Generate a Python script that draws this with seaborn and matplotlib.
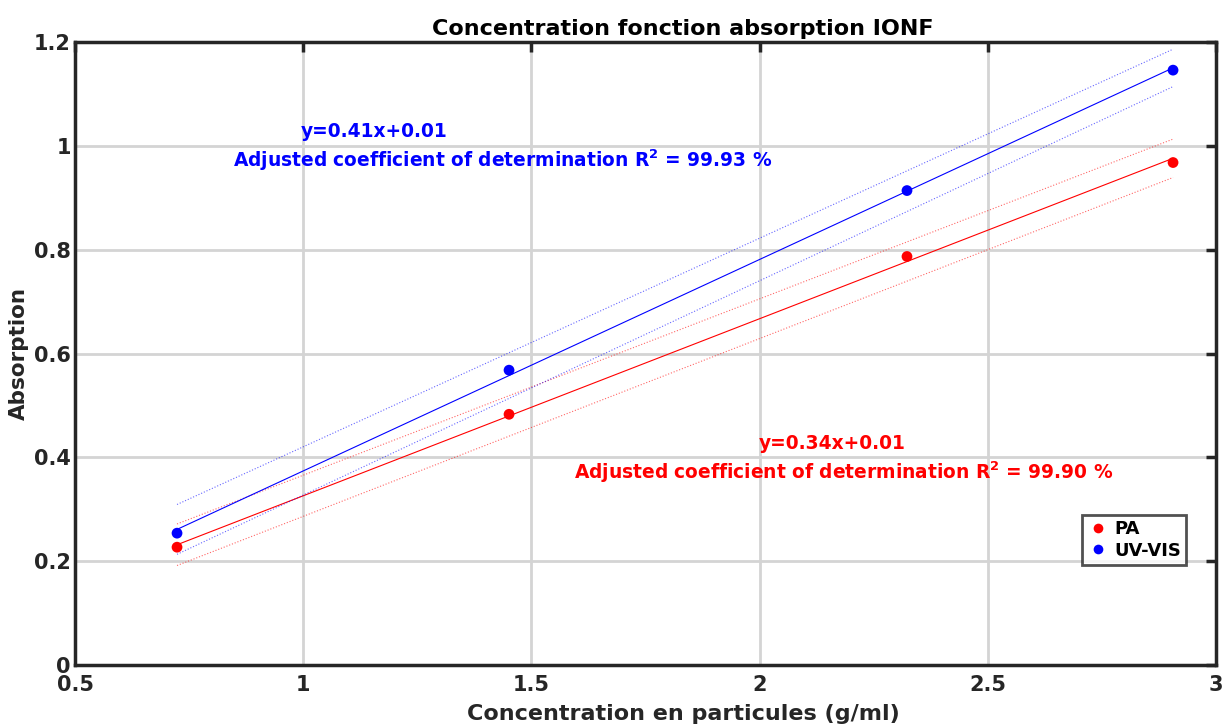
import matplotlib
matplotlib.use("Agg")
import matplotlib.pyplot as plt
import numpy as np
import pandas as pd
import seaborn as sns

# concentration (g/ml) and absorption
concentration = [0.7235, 1.451, 2.323, 2.906]
absorption_pa = [0.227, 0.483, 0.787, 0.968]
absorption_uv = [0.254, 0.568, 0.914, 1.146]
series_names = ["PA", "UV-VIS"]
series_colors = {"PA": "red", "UV-VIS": "blue"}

# half-width of the dotted confidence bounds (left end, right end)
band_pa = [0.040, 0.037]
band_uv = [0.048, 0.036]

eq_pa = "y=0.34x+0.01"
eq_uv = "y=0.41x+0.01"
r2_pa = "99.90"
r2_uv = "99.93"

x_ticks = [0.5, 1, 1.5, 2, 2.5, 3]
y_ticks = [0, 0.2, 0.4, 0.6, 0.8, 1, 1.2]

df = pd.DataFrame({
    "x": concentration * 2,
    "y": absorption_pa + absorption_uv,
    "serie": [series_names[0]] * 4 + [series_names[1]] * 4,
})

sns.set_style("whitegrid")
plt.rcParams["font.family"] = ["DejaVu Sans"]
plt.rcParams["font.weight"] = "bold"

fig = plt.figure(figsize=(12.26, 7.26), dpi=100)
ax = fig.add_axes([0.0612, 0.084, 0.9306, 0.858])

# fit lines and bounds
for name, band in [("PA", band_pa), ("UV-VIS", band_uv)]:
    sub = df[df["serie"] == name]
    slope, icpt = np.polyfit(sub["x"], sub["y"], 1)
    xs = np.array([sub["x"].min(), sub["x"].max()])
    fit = slope * xs + icpt
    col = series_colors[name]
    sns.lineplot(x=xs, y=fit, color=col, linewidth=0.8, ax=ax)
    ax.plot(xs, fit + np.array(band), color=col, linewidth=0.8,
            linestyle=":", alpha=0.6)
    ax.plot(xs, fit - np.array(band), color=col, linewidth=0.8,
            linestyle=":", alpha=0.6)

sns.scatterplot(data=df, x="x", y="y", hue="serie", palette=series_colors,
                s=60, edgecolor="none", ax=ax, zorder=5)

ax.set_xlim(0.5, 3)
ax.set_ylim(0, 1.2)
ax.set_xticks(x_ticks)
ax.set_xticklabels(["0.5", "1", "1.5", "2", "2.5", "3"])
ax.set_yticks(y_ticks)
ax.set_yticklabels(["0", "0.2", "0.4", "0.6", "0.8", "1", "1.2"])
ax.grid(True, color="#d4d4d4", linewidth=2)
ax.tick_params(direction="in", length=7, width=2.5, labelsize=15,
               top=True, right=True, colors="#262626", pad=3)
ax.tick_params(axis="x", pad=7)
for lab in ax.get_xticklabels() + ax.get_yticklabels():
    lab.set_fontweight("bold")
for sp in ax.spines.values():
    sp.set_color("#262626")
    sp.set_linewidth(2.5)
    sp.set_visible(True)

ax.set_xlabel("Concentration en particules (g/ml)", fontsize=16,
              fontweight="bold", labelpad=4, color="#262626")
ax.xaxis.set_label_coords(0.533, -0.062)
ax.set_ylabel("Absorption", fontsize=15.5, fontweight="bold", labelpad=4,
              color="#262626")
ax.set_title("Concentration fonction absorption IONF", fontsize=16,
             fontweight="bold", pad=5, color="black", x=0.533)

ax.text(1.155, 1.027, eq_uv, color="blue", fontsize=13.4, fontweight="bold",
        ha="center", va="center")
ax.text(1.436, 0.973,
        r"Adjusted coefficient of determination R$^{\mathbf{2}}$ = " + r2_uv + " %",
        color="blue", fontsize=13.4, fontweight="bold", ha="center", va="center")
ax.text(2.159, 0.426, eq_pa, color="red", fontsize=13.4, fontweight="bold",
        ha="center", va="center")
ax.text(2.185, 0.372,
        r"Adjusted coefficient of determination R$^{\mathbf{2}}$ = " + r2_pa + " %",
        color="red", fontsize=13.4, fontweight="bold", ha="center", va="center")

leg = ax.legend(loc="lower right", bbox_to_anchor=(0.982, 0.146),
                frameon=True, fancybox=False, fontsize=13, markerscale=0.9,
                handletextpad=0.3, borderpad=0.3, labelspacing=0.2,
                handlelength=1.2, title=None)
leg.get_frame().set_edgecolor("#262626")
leg.get_frame().set_linewidth(2)
for t in leg.get_texts():
    t.set_fontweight("bold")
    t.set_color("black")

fig.savefig("out.png", dpi=100)
